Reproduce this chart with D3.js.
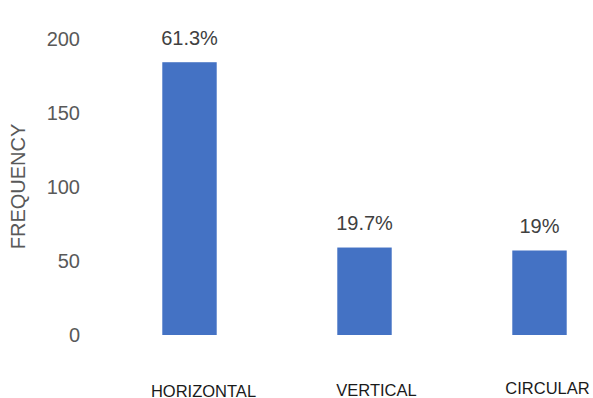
<!DOCTYPE html>
<html>
<head>
<meta charset="utf-8">
<script src="https://cdn.jsdelivr.net/npm/d3@7"></script>
<style>
  body { margin: 0; background: #fff; }
  svg { display: block; font-family: "Liberation Sans", Arial, sans-serif; }
</style>
</head>
<body>
<div id="chart"></div>
<script>
// data
var categories = ["HORIZONTAL", "VERTICAL", "CIRCULAR"];
var frequencies = [184, 59, 57];
var percentLabels = ["61.3%", "19.7%", "19%"];
var yTicks = [0, 50, 100, 150, 200];

// category labels sit a bit off centre in the original
var labelNudgeX = [14, 12, 8];
var labelBaseline = [396.5, 396, 394.3];

var width = 593, height = 398;

var svg = d3.select("#chart").append("svg")
    .attr("width", width)
    .attr("height", height);

var x = d3.scaleBand()
    .domain(categories)
    .range([102, 627])
    .paddingInner(0.689)
    .paddingOuter(0.3445);

var y = d3.scaleLinear()
    .domain([0, 200])
    .range([335, 38.5]);

// y axis, labels only
var yAxis = d3.axisLeft(y)
    .tickValues(yTicks)
    .tickSize(0)
    .tickPadding(0);

var gy = svg.append("g")
    .attr("transform", "translate(80,0)")
    .call(yAxis);
gy.select(".domain").remove();
gy.selectAll("text")
    .attr("font-size", 20)
    .attr("fill", "#595959")
    .attr("font-family", "Liberation Sans, Arial, sans-serif")
    .attr("dy", "0.34em");

// axis title
svg.append("text")
    .attr("transform", "translate(24.5,186.5) rotate(-90)")
    .attr("text-anchor", "middle")
    .attr("font-size", 20)
    .attr("fill", "#595959")
    .text("FREQUENCY");

// bars
svg.selectAll("rect.bar")
    .data(frequencies)
    .enter().append("rect")
    .attr("class", "bar")
    .attr("x", function(d, i) { return x(categories[i]); })
    .attr("width", x.bandwidth())
    .attr("y", function(d) { return y(d); })
    .attr("height", function(d) { return y(0) - y(d); })
    .attr("fill", "#4472C4");

// percentage labels
svg.selectAll("text.pct")
    .data(frequencies)
    .enter().append("text")
    .attr("class", "pct")
    .attr("x", function(d, i) { return x(categories[i]) + x.bandwidth() / 2; })
    .attr("y", function(d) { return y(d) - 17.5; })
    .attr("text-anchor", "middle")
    .attr("font-size", 20)
    .attr("fill", "#404040")
    .text(function(d, i) { return percentLabels[i]; });

// category labels
svg.selectAll("text.cat")
    .data(categories)
    .enter().append("text")
    .attr("class", "cat")
    .attr("x", function(d, i) { return x(d) + x.bandwidth() / 2 + labelNudgeX[i]; })
    .attr("y", function(d, i) { return labelBaseline[i]; })
    .attr("text-anchor", "middle")
    .attr("font-size", 16.5)
    .attr("fill", "#1a1a1a")
    .text(function(d) { return d; });
</script>
</body>
</html>
